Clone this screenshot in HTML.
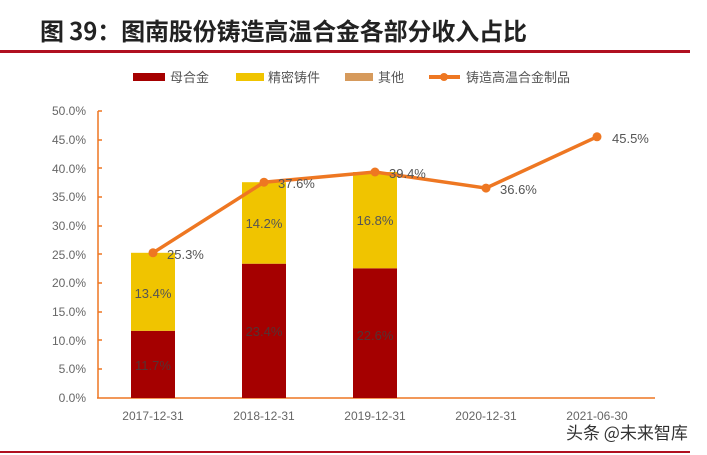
<!DOCTYPE html>
<html><head><meta charset="utf-8"><style>
body{margin:0;background:#fff;width:707px;height:455px;overflow:hidden;}
svg{display:block;font-family:"Liberation Sans","Noto Sans CJK SC",sans-serif;}
</style></head><body>
<svg width="707" height="455" viewBox="0 0 707 455">
<text x="40" y="40" font-size="24" font-weight="bold" fill="#222" font-family="'Noto Sans CJK SC',sans-serif" textLength="487">图 39：图南股份铸造高温合金各部分收入占比</text>
<rect x="0" y="50" width="690" height="3" fill="#b01020"/>
<rect x="0" y="451" width="690" height="2" fill="#b01020"/>
<g font-size="13" fill="#555" font-family="'Noto Sans CJK SC',sans-serif">
<rect x="133" y="73" width="32" height="8" fill="#a50000"/><text x="170" y="82">母合金</text>
<rect x="236" y="73" width="28" height="8" fill="#f0c400"/><text x="268" y="82">精密铸件</text>
<rect x="345" y="73" width="28" height="8" fill="#d69a5c"/><text x="378" y="82">其他</text>
<line x1="429" y1="77" x2="460" y2="77" stroke="#ee7722" stroke-width="4"/><circle cx="444" cy="77" r="4" fill="#ee7722"/><text x="466" y="82">铸造高温合金制品</text>
</g>
<g font-size="12" fill="#666" text-anchor="end">
<text x="86" y="115">50.0%</text><text x="86" y="144">45.0%</text><text x="86" y="173">40.0%</text><text x="86" y="201">35.0%</text><text x="86" y="230">30.0%</text><text x="86" y="259">25.0%</text><text x="86" y="287">20.0%</text><text x="86" y="316">15.0%</text><text x="86" y="345">10.0%</text><text x="86" y="373">5.0%</text><text x="86" y="402">0.0%</text>
</g>
<g stroke="#ee7722" stroke-width="1.5">
<line x1="98" y1="111" x2="98" y2="398"/>
<line x1="97" y1="398" x2="655" y2="398"/>
<path d="M98 111h4M98 140h4M98 168h4M98 197h4M98 226h4M98 254h4M98 283h4M98 312h4M98 340h4M98 369h4"/>
</g>
<rect x="131" y="330.8" width="44" height="67.2" fill="#a50000"/>
<rect x="131" y="252.8" width="44" height="78" fill="#f0c400"/>
<rect x="242" y="263.7" width="44" height="134.3" fill="#a50000"/>
<rect x="242" y="182.2" width="44" height="81.5" fill="#f0c400"/>
<rect x="353" y="268.3" width="44" height="129.7" fill="#a50000"/>
<rect x="353" y="172" width="44" height="96.3" fill="#f0c400"/>
<polyline points="153,252.8 264,182.2 375,172 486,188.1 597,136.8" fill="none" stroke="#ee7722" stroke-width="3.5"/>
<g fill="#ee7722"><circle cx="153" cy="252.8" r="4.5"/><circle cx="264" cy="182.2" r="4.5"/><circle cx="375" cy="172" r="4.5"/><circle cx="486" cy="188.1" r="4.5"/><circle cx="597" cy="136.8" r="4.5"/></g>
<g font-size="13" fill="#555">
<text x="167" y="259">25.3%</text><text x="278" y="188">37.6%</text><text x="389" y="178">39.4%</text><text x="500" y="194">36.6%</text><text x="612" y="143">45.5%</text>
<g text-anchor="middle">
<text x="153" y="298">13.4%</text><text x="264" y="228">14.2%</text><text x="375" y="225">16.8%</text>
<text x="153" y="370" fill="#553333">11.7%</text><text x="264" y="336" fill="#553333">23.4%</text><text x="375" y="340" fill="#553333">22.6%</text>
</g></g>
<g font-size="12" fill="#666" text-anchor="middle">
<text x="153" y="420">2017-12-31</text><text x="264" y="420">2018-12-31</text><text x="375" y="420">2019-12-31</text><text x="486" y="420">2020-12-31</text><text x="597" y="420">2021-06-30</text>
</g>
<text x="566" y="439" font-size="17" fill="#333" font-family="'Noto Sans CJK SC',sans-serif">头条 @未来智库</text>
</svg>
</body></html>
